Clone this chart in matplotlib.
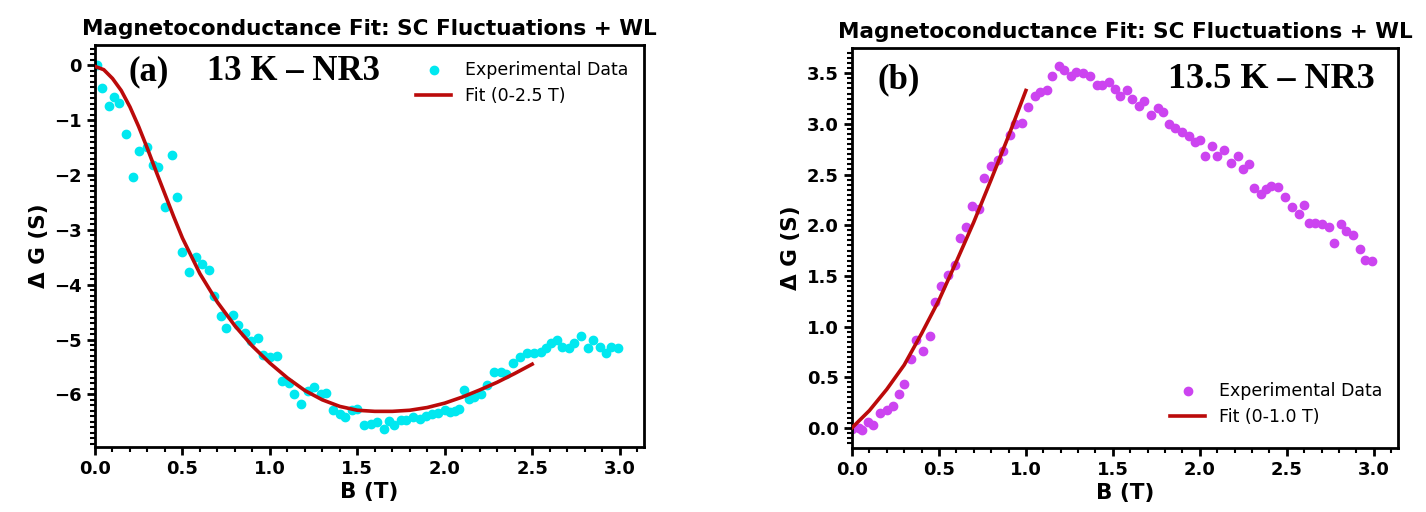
import matplotlib
matplotlib.use("Agg")
import matplotlib.pyplot as plt
from matplotlib.ticker import AutoMinorLocator, MultipleLocator

# ---------------- data ----------------
B_a = [0.01, 0.04, 0.08, 0.11, 0.14, 0.18, 0.22, 0.25, 0.30, 0.33, 0.36, 0.40, 0.44, 0.47,
       0.50, 0.54, 0.58, 0.61, 0.65, 0.68, 0.72, 0.75, 0.79, 0.82, 0.86, 0.89, 0.93, 0.96,
       1.00, 1.04, 1.07, 1.11, 1.14, 1.18, 1.22, 1.25, 1.29, 1.32, 1.36, 1.40, 1.43, 1.47,
       1.50, 1.54, 1.58, 1.61, 1.65, 1.68, 1.71, 1.75, 1.78, 1.82, 1.86, 1.89, 1.93, 1.96,
       2.00, 2.03, 2.06, 2.08, 2.11, 2.14, 2.17, 2.21, 2.24, 2.28, 2.32, 2.35, 2.39, 2.43,
       2.47, 2.51, 2.55, 2.58, 2.61, 2.64, 2.67, 2.71, 2.74, 2.78, 2.82, 2.85, 2.89, 2.92,
       2.95, 2.99]
G_a = [0.00, -0.41, -0.75, -0.58, -0.69, -1.25, -2.04, -1.57, -1.49, -1.81, -1.86, -2.58, -1.64, -2.41,
       -3.41, -3.77, -3.50, -3.63, -3.74, -4.20, -4.57, -4.79, -4.55, -4.73, -4.88, -5.03, -4.97, -5.29,
       -5.32, -5.30, -5.75, -5.80, -6.00, -6.17, -5.94, -5.86, -6.00, -5.97, -6.29, -6.35, -6.41, -6.29,
       -6.26, -6.55, -6.54, -6.50, -6.63, -6.49, -6.55, -6.47, -6.47, -6.42, -6.45, -6.40, -6.36, -6.34,
       -6.29, -6.33, -6.31, -6.27, -5.92, -6.08, -6.05, -5.99, -5.83, -5.59, -5.59, -5.62, -5.43, -5.31,
       -5.25, -5.25, -5.22, -5.16, -5.06, -5.00, -5.13, -5.16, -5.06, -4.93, -5.16, -5.00, -5.13, -5.25,
       -5.13, -5.16]

B_fit_a = [0.0, 0.05, 0.1, 0.15, 0.2, 0.25, 0.3, 0.35, 0.4, 0.45, 0.5, 0.6, 0.7, 0.8, 0.9, 1.0, 1.1, 1.2,
           1.3, 1.4, 1.5, 1.6, 1.7, 1.8, 1.9, 2.0, 2.1, 2.2, 2.3, 2.4, 2.5]
G_fit_a = [-0.02, -0.08, -0.24, -0.46, -0.76, -1.12, -1.52, -1.94, -2.35, -2.76, -3.15, -3.80, -4.32,
           -4.75, -5.12, -5.43, -5.70, -5.93,
           -6.10, -6.22, -6.29, -6.31, -6.31, -6.29, -6.24, -6.16, -6.05, -5.92, -5.78, -5.62, -5.45]

B_b = [0.00, 0.04, 0.06, 0.09, 0.12, 0.16, 0.20, 0.235, 0.27, 0.30, 0.34, 0.37, 0.41, 0.45,
       0.48, 0.51, 0.55, 0.59, 0.62, 0.655, 0.69, 0.73, 0.76, 0.80, 0.84, 0.87, 0.91, 0.94,
       0.98, 1.01, 1.05, 1.08, 1.12, 1.15, 1.19, 1.22, 1.26, 1.29, 1.33, 1.37, 1.41, 1.44,
       1.48, 1.51, 1.54, 1.58, 1.61, 1.65, 1.68, 1.72, 1.76, 1.79, 1.82, 1.86, 1.90, 1.94,
       1.97, 2.00, 2.03, 2.07, 2.10, 2.14, 2.18, 2.22, 2.25, 2.28, 2.31, 2.35, 2.38, 2.41,
       2.45, 2.49, 2.53, 2.57, 2.60, 2.63, 2.66, 2.70, 2.74, 2.77, 2.81, 2.84, 2.88, 2.92,
       2.95, 2.99]
G_b = [-0.01, 0.00, -0.02, 0.06, 0.03, 0.15, 0.18, 0.22, 0.33, 0.43, 0.68, 0.87, 0.76, 0.91,
       1.24, 1.40, 1.51, 1.61, 1.87, 1.98, 2.19, 2.16, 2.47, 2.58, 2.64, 2.73, 2.89, 3.00,
       3.01, 3.17, 3.28, 3.32, 3.33, 3.47, 3.57, 3.53, 3.47, 3.51, 3.50, 3.47, 3.38, 3.38,
       3.41, 3.34, 3.28, 3.33, 3.25, 3.18, 3.23, 3.09, 3.16, 3.12, 3.00, 2.96, 2.92, 2.88,
       2.82, 2.84, 2.68, 2.78, 2.68, 2.74, 2.61, 2.68, 2.55, 2.60, 2.37, 2.31, 2.36, 2.39,
       2.38, 2.28, 2.18, 2.11, 2.20, 2.02, 2.02, 2.01, 1.98, 1.82, 2.01, 1.94, 1.90, 1.77,
       1.66, 1.65]

B_fit_b = [0.0, 0.1, 0.2, 0.3, 0.4, 0.5, 0.6, 0.7, 0.8, 0.9, 1.0]
G_fit_b = [0.0, 0.17, 0.38, 0.62, 0.93, 1.26, 1.64, 2.03, 2.45, 2.88, 3.33]

title = "Magnetoconductance Fit: SC Fluctuations + WL"
xlabel = "B (T)"
ylabel = "\u0394 G (S)"
label_fit_a = "Fit (0-2.5 T)"
label_fit_b = "Fit (0-1.0 T)"
label_data = "Experimental Data"
tag_a, tag_b = "(a)", "(b)"
temp_a, temp_b = "13 K \u2013 NR3", "13.5 K \u2013 NR3"

# ---------------- figure ----------------
W, H = 1426, 512
fig = plt.figure(figsize=(W / 100, H / 100), dpi=100)
ax1 = fig.add_axes([95 / W, 1 - 447 / H, (644 - 95) / W, (447 - 45) / H])
ax2 = fig.add_axes([852 / W, 1 - 448 / H, (1398 - 852) / W, (448 - 48) / H])

cyan = "#00e8f0"
magenta = "#cc44f0"
red = "#bb0a0a"

ax1.scatter(B_a, G_a, s=36, color=cyan, label=label_data, zorder=2)
ax1.plot(B_fit_a, G_fit_a, color=red, lw=2.6, label=label_fit_a, zorder=3)
ax2.scatter(B_b, G_b, s=36, color=magenta, label=label_data, zorder=2)
ax2.plot(B_fit_b, G_fit_b, color=red, lw=2.6, label=label_fit_b, zorder=3)

ax1.set_ylim(-6.96, 0.37)

for ax in (ax1, ax2):
    ax.set_xlim(left=0)
    ax.set_title(title, fontsize=15.5, fontweight="bold", pad=7)
    ax.set_xlabel(xlabel, fontsize=15.5, fontweight="bold", labelpad=3)
    ax.set_ylabel(ylabel, fontsize=15.5, fontweight="bold")
    ax.xaxis.set_major_locator(MultipleLocator(0.5))
    ax.xaxis.set_minor_locator(AutoMinorLocator(5))
    ax.yaxis.set_minor_locator(AutoMinorLocator(10))
    ax.tick_params(which="major", length=6, width=2, labelsize=13)
    ax.tick_params(which="minor", length=3.5, width=1.5)
    for lab in ax.get_xticklabels() + ax.get_yticklabels():
        lab.set_fontweight("bold")
    for sp in ax.spines.values():
        sp.set_linewidth(2)

ax1.legend(loc="upper right", frameon=False, fontsize=12.5)
ax2.legend(loc="lower right", frameon=False, fontsize=12.5, bbox_to_anchor=(1.0, 0.015))

serif = ["Liberation Serif", "DejaVu Serif"]
fig.text(128 / W, 1 - 72 / H, tag_a, family=serif, fontweight="bold", fontsize=25, va="center", ha="left")
fig.text(207 / W, 1 - 72 / H, temp_a, family=serif, fontweight="bold", fontsize=25, va="center", ha="left")
fig.text(878 / W, 1 - 80 / H, tag_b, family=serif, fontweight="bold", fontsize=25, va="center", ha="left")
fig.text(1375 / W, 1 - 80 / H, temp_b, family=serif, fontweight="bold", fontsize=26, va="center", ha="right")

fig.savefig("out.png", dpi=100)
